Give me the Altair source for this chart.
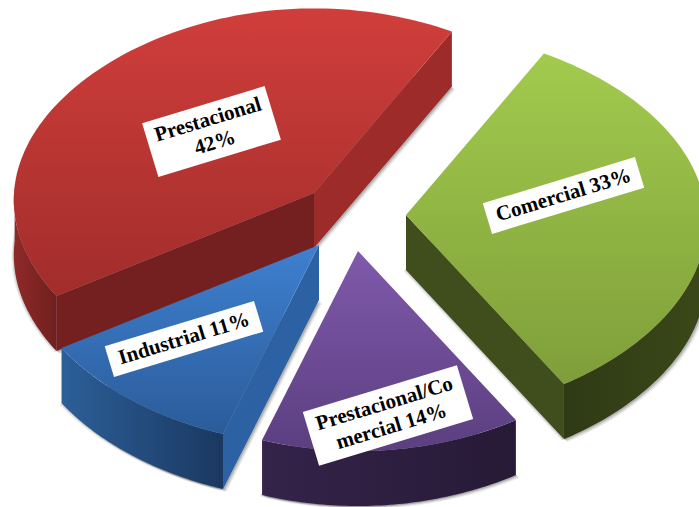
import numpy as np
import pandas as pd
import altair as alt

# Slice shares in percent, in drawing order around the pie
names = ["Prestacional", "Industrial", "Prestacional/Co\nmercial", "Comercial"]
shares = [42, 11, 14, 33]
label_breaks = ["\n", " ", " ", " "]

# Pie geometry: ellipse radii, perspective strength, rim pinch, wall depth, start angle
RX, RY, PERSP, PINCH, DEPTH, START = 300.0, 192.0, 0.04, 0.045, 55.0, 60.5
W, H = 699, 507

# Exploded apex of every slice
apex = {"Prestacional": (314, 193), "Industrial": (319, 245),
        "Prestacional/Co\nmercial": (358, 251), "Comercial": (406, 215)}

# Label boxes: centre x, centre y, width, height
boxes = {"Prestacional": (211.5, 131.5, 128, 56), "Industrial": (184, 339, 156, 32),
         "Prestacional/Co\nmercial": (388, 415.5, 161, 56), "Comercial": (563.5, 195.5, 159, 32)}
BOX_ANGLE = 16.9
FONT_SIZE, LINE_HEIGHT = 21, 24

# Colours: top-face gradient, outer wall gradient
top_colors = {"Prestacional": ("#d03e3b", "#a12d2b"), "Industrial": ("#3e80d0", "#2b5c9a"),
              "Prestacional/Co\nmercial": ("#8059ab", "#5b3f80"), "Comercial": ("#a2cb4d", "#7f9e3a")}
wall_colors = {"Prestacional": ("#8f2a28", "#6f1f1e"), "Industrial": ("#2c5f98", "#1a3861"),
               "Prestacional/Co\nmercial": ("#35234a", "#261a36"), "Comercial": ("#2f3a15", "#3b4818")}


def rim(name, deg):
    """Project a rim angle of the pie onto the drawing plane."""
    t = np.radians(deg)
    u, v = np.cos(t), np.sin(t)
    w = 1 + PERSP * v
    ax, ay = apex[name]
    return ax + RX * u * (1 - PINCH * v * v) / w, ay - RY * v / w


def polygon(points):
    return pd.DataFrame({"i": range(len(points)),
                         "x": [p[0] for p in points],
                         "y": [p[1] for p in points]})


x_enc = alt.X("x:Q", axis=None, scale=alt.Scale(domain=[0, W], nice=False, zero=False))
y_enc = alt.Y("y:Q", axis=None, scale=alt.Scale(domain=[H, 0], nice=False, zero=False))


def face(points, fill, opacity=1.0):
    return alt.Chart(polygon(points)).mark_line(
        fill=fill, strokeWidth=0, fillOpacity=opacity, interpolate="linear"
    ).encode(x=x_enc, y=y_enc, order="i:Q")


def vgrad(c0, c1):
    return alt.Gradient(gradient="linear", x1=0, y1=0, x2=0, y2=1,
                        stops=[alt.GradientStop(color=c0, offset=0),
                               alt.GradientStop(color=c1, offset=1)])


def hgrad(c0, c1):
    return alt.Gradient(gradient="linear", x1=0, y1=0, x2=1, y2=0,
                        stops=[alt.GradientStop(color=c0, offset=0),
                               alt.GradientStop(color=c1, offset=1)])


# Angular extent of each slice from its share
spans = {}
angle = START
for name, share in zip(names, shares):
    spans[name] = (angle, angle + share * 3.6)
    angle += share * 3.6

# Part of the rim whose outer wall faces the viewer
wall_span = {"Prestacional": (178, spans["Prestacional"][1]),
             "Industrial": spans["Industrial"],
             "Prestacional/Co\nmercial": spans["Prestacional/Co\nmercial"],
             "Comercial": (spans["Comercial"][0], 362)}

# Which rim end carries a visible cut face, and its colour
cut_faces = {"Prestacional": [(0, "#9c2b2a"), (-1, "#752020")],
             "Industrial": [(-1, "#2c62a4")],
             "Prestacional/Co\nmercial": [],
             "Comercial": [(0, "#404d1c")]}

layers = []
for name in names:
    a0, a1 = spans[name]
    ax, ay = apex[name]
    arc = [rim(name, d) for d in np.linspace(a0, a1, 90)]
    bottom = [(ax, ay + DEPTH)] + [(p[0], p[1] + DEPTH) for p in arc]

    # Soft contact shadow under the slice
    for off, op in [(5, 0.10), (3.5, 0.16), (2, 0.25)]:
        layers.append(face([(p[0] + off * 0.7, p[1] + off * 0.6) for p in bottom], "#555555", op))
        layers.append(face([(p[0] - off * 0.5, p[1] + off * 0.3) for p in bottom], "#555555", op * 0.6))

    # Cut faces that show towards the viewer
    for end, color in cut_faces[name]:
        p = arc[end]
        layers.append(face([(ax, ay), p, (p[0], p[1] + DEPTH), (ax, ay + DEPTH)], color))

    # Outer wall
    w0, w1 = wall_span[name]
    wall_top = [rim(name, d) for d in np.linspace(w0, w1, 60)]
    wall_low = [(p[0], p[1] + DEPTH) for p in reversed(wall_top)]
    c0, c1 = wall_colors[name]
    layers.append(face(wall_top + wall_low, hgrad(c0, c1)))

    # Top face
    layers.append(face([(ax, ay)] + arc, vgrad(*top_colors[name])))

# White label boxes with rotated text
rad = np.radians(BOX_ANGLE)
ex, ey = np.cos(rad), -np.sin(rad)
nx, ny = np.sin(rad), np.cos(rad)
for name, share, brk in zip(names, shares, label_breaks):
    cx, cy, bw, bh = boxes[name]
    corners = [(cx + sx * bw / 2 * ex + sy * bh / 2 * nx, cy + sx * bw / 2 * ey + sy * bh / 2 * ny)
               for sx, sy in [(-1, -1), (1, -1), (1, 1), (-1, 1)]]
    layers.append(face(corners, "#ffffff"))
    text = f"{name}{brk}{share}%"
    # A two-line block is anchored on its first line
    shift = (text.count("\n")) * LINE_HEIGHT / 2
    label = pd.DataFrame({"x": [cx - shift * nx], "y": [cy - shift * ny], "t": [text]})
    layers.append(alt.Chart(label).mark_text(
        font="Liberation Serif", fontWeight="bold", fontSize=FONT_SIZE, color="#000000",
        angle=360 - BOX_ANGLE, align="center", baseline="middle", lineBreak="\n",
        lineHeight=LINE_HEIGHT
    ).encode(x=x_enc, y=y_enc, text="t:N"))

chart = alt.layer(*layers).properties(
    width=W, height=H, padding=0, background="#ffffff",
    autosize=alt.AutoSizeParams(type="none")
).configure_view(stroke=None)

chart.save("out.html", embed_options={"renderer": "svg", "actions": False})
